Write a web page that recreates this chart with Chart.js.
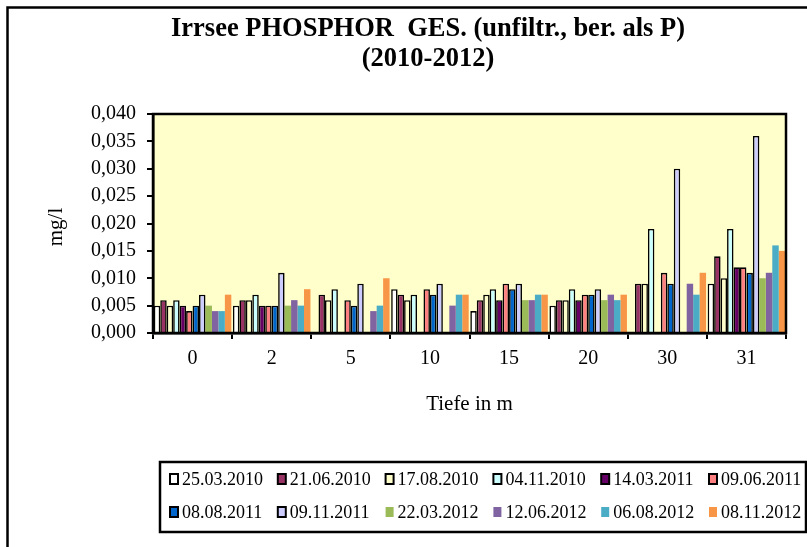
<!DOCTYPE html>
<html>
<head>
<meta charset="utf-8">
<script src="https://cdn.jsdelivr.net/npm/chart.js@4/dist/chart.umd.min.js"></script>
<style>
  html, body { margin: 0; padding: 0; background: #ffffff; }
  #wrap { width: 807px; height: 547px; position: relative; }
</style>
</head>
<body>
<div id="wrap"><canvas id="c" width="807" height="547"></canvas></div>
<script>
// ---- data ----
const categories = ['0', '2', '5', '10', '15', '20', '30', '31'];
const seriesLabels = ['25.03.2010', '21.06.2010', '17.08.2010', '04.11.2010', '14.03.2011', '09.06.2011',
                      '08.08.2011', '09.11.2011', '22.03.2012', '12.06.2012', '06.08.2012', '08.11.2012'];
const s_25_03_2010 = [0.005, 0.005, null, 0.008, 0.004, 0.005, null, 0.009];
const s_21_06_2010 = [0.006, 0.006, 0.007, 0.007, 0.006, 0.006, 0.009, 0.014];
const s_17_08_2010 = [0.005, 0.006, 0.006, 0.006, 0.007, 0.006, 0.009, 0.010];
const s_04_11_2010 = [0.006, 0.007, 0.008, 0.007, 0.008, 0.008, 0.019, 0.019];
const s_14_03_2011 = [0.005, 0.005, null, null, 0.006, 0.006, null, 0.012];
const s_09_06_2011 = [0.004, 0.005, 0.006, 0.008, 0.009, 0.007, 0.011, 0.012];
const s_08_08_2011 = [0.005, 0.005, 0.005, 0.007, 0.008, 0.007, 0.009, 0.011];
const s_09_11_2011 = [0.007, 0.011, 0.009, 0.009, 0.009, 0.008, 0.030, 0.036];
const s_22_03_2012 = [0.005, 0.005, null, null, 0.006, 0.006, null, 0.010];
const s_12_06_2012 = [0.004, 0.006, 0.004, 0.005, 0.006, 0.007, 0.009, 0.011];
const s_06_08_2012 = [0.004, 0.005, 0.005, 0.007, 0.007, 0.006, 0.007, 0.016];
const s_08_11_2012 = [0.007, 0.008, 0.010, 0.007, 0.007, 0.007, 0.011, 0.015];
const seriesValues = [s_25_03_2010, s_21_06_2010, s_17_08_2010, s_04_11_2010, s_14_03_2011, s_09_06_2011,
                      s_08_08_2011, s_09_11_2011, s_22_03_2012, s_12_06_2012, s_06_08_2012, s_08_11_2012];
const yTicks = [0, 0.005, 0.010, 0.015, 0.020, 0.025, 0.030, 0.035, 0.040];
const titleLines = ['Irrsee PHOSPHOR  GES. (unfiltr., ber. als P)', '(2010-2012)'];
const yTitle = 'mg/l';
const xTitle = 'Tiefe in m';

// ---- styles ----
const colors = ['#FFFFFF', '#993366', '#FFFFCC', '#CCFFFF', '#660066', '#FF8080',
                '#0066CC', '#CCCCFF', '#9BBB59', '#8064A2', '#4BACC6', '#F79646'];
const bordered = [true, true, true, true, true, true, true, true, false, false, false, false];
const SERIF = '"Liberation Serif", "Times New Roman", serif';

const datasets = seriesValues.map((vals, i) => ({
  label: seriesLabels[i],
  data: vals,
  backgroundColor: colors[i],
  borderColor: '#000000',
  borderWidth: bordered[i] ? 1.6 : 0,
  borderSkipped: 'start',
  categoryPercentage: 0.98,
  barPercentage: 1.0
}));

const decor = {
  id: 'decor',
  beforeDraw(chart) {
    const ctx = chart.ctx, a = chart.chartArea;
    ctx.save();
    ctx.fillStyle = '#ffffff';
    ctx.fillRect(0, 0, chart.width, chart.height);
    ctx.strokeStyle = '#000';
    ctx.lineWidth = 2.5;
    ctx.strokeRect(7.5, 7.5, 900, 900);
    ctx.fillStyle = '#FFFFCC';
    ctx.fillRect(a.left, a.top, a.right - a.left, a.bottom - a.top);
    ctx.restore();
  },
  afterDraw(chart) {
    const ctx = chart.ctx, a = chart.chartArea;
    ctx.save();
    // plot frame
    ctx.strokeStyle = '#000';
    ctx.lineWidth = 2.5;
    ctx.strokeRect(a.left, a.top, a.right - a.left, a.bottom - a.top);
    // title
    ctx.fillStyle = '#000';
    ctx.textAlign = 'center';
    ctx.textBaseline = 'alphabetic';
    ctx.font = 'bold 26.5px ' + SERIF;
    ctx.fillText(titleLines[0], 428, 36);
    ctx.fillText(titleLines[1], 428, 66);
    // axis titles
    ctx.font = '21px ' + SERIF;
    ctx.textBaseline = 'middle';
    ctx.fillText(xTitle, (a.left + a.right) / 2, 404);
    ctx.save();
    ctx.translate(56, 227);
    ctx.rotate(-Math.PI / 2);
    ctx.fillText(yTitle, 0, 0);
    ctx.restore();
    // legend box
    ctx.lineWidth = 2.5;
    ctx.strokeRect(160, 462, 646, 70);
    ctx.font = '18px ' + SERIF;
    ctx.textAlign = 'left';
    ctx.textBaseline = 'middle';
    const rows = [479, 512];
    chart.data.datasets.forEach((ds, i) => {
      const col = i % 6, row = Math.floor(i / 6);
      const mx = 170 + col * 107.8, my = rows[row];
      ctx.fillStyle = ds.backgroundColor;
      ctx.fillRect(mx, my - 5, 8, 10);
      if (ds.borderWidth > 0) {
        ctx.lineWidth = 2;
        ctx.strokeStyle = '#000';
        ctx.strokeRect(mx, my - 5, 8, 10);
      }
      ctx.fillStyle = '#000';
      ctx.fillText(ds.label, mx + 12, my + 1);
    });
    ctx.restore();
  }
};

new Chart(document.getElementById('c'), {
  type: 'bar',
  data: { labels: categories, datasets: datasets },
  options: {
    responsive: false,
    animation: false,
    devicePixelRatio: 1,
    layout: { padding: { left: 0, right: 21, top: 114, bottom: 0 } },
    plugins: { legend: { display: false }, title: { display: false }, tooltip: { enabled: false } },
    scales: {
      x: {
        afterFit(s) { s.height = 214; },
        grid: { display: true, drawOnChartArea: false, drawTicks: true, tickLength: 6, color: '#000', lineWidth: 2, offset: true },
        border: { display: true, color: '#000', width: 2.5 },
        ticks: { color: '#000', font: { family: SERIF, size: 20 }, padding: 8, maxRotation: 0 }
      },
      y: {
        min: 0, max: 0.04,
        afterFit(s) { s.width = 153; },
        afterBuildTicks(s) { s.ticks = yTicks.map(v => ({ value: v })); },
        grid: { display: true, drawOnChartArea: false, drawTicks: true, tickLength: 6, color: '#000', lineWidth: 2 },
        border: { display: true, color: '#000', width: 2.5 },
        ticks: {
          color: '#000', font: { family: SERIF, size: 20 }, padding: 11,
          callback: (v) => Number(v).toFixed(3).replace('.', ',')
        }
      }
    }
  },
  plugins: [decor]
});
</script>
</body>
</html>
